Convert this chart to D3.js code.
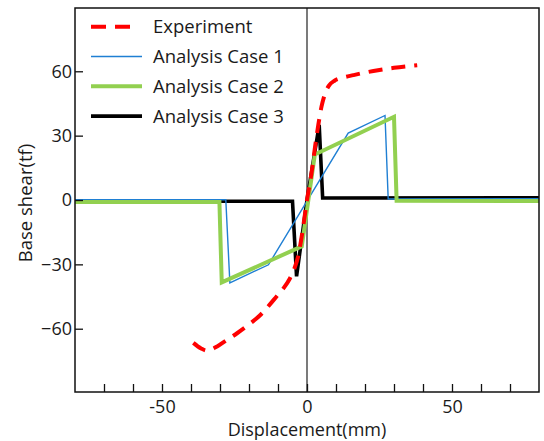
<!DOCTYPE html>
<html>
<head>
<meta charset="utf-8">
<script src="https://cdn.jsdelivr.net/npm/d3@7/dist/d3.min.js"></script>
<style>
  html, body { margin: 0; padding: 0; background: #fff; }
  svg { display: block; }
  text { font-family: "Open Sans", "Noto Sans", sans-serif; fill: #1a1a1a; }
</style>
</head>
<body>
<svg id="chart" width="544" height="441"></svg>
<script>
// Hysteresis response: displacement (mm) vs. base shear (tf)
const experimentX = [-39.2, -36.5, -34.5, -31, -28, -24, -20, -16, -13, -10.5, -8, -6, -4.5, -3, -2, -1, 0,
                     1.5, 2.8, 3.9, 5, 6.2, 7.5, 9.5, 12, 16, 20, 25, 30, 38];
const experimentY = [-66.6, -69.2, -70.2, -68.3, -65.6, -62, -58, -53.5, -49, -45, -41, -36.8, -32.5, -26, -18.5, -9.5, 0,
                     12, 25, 35, 43.5, 49.5, 53.2, 55.6, 56.9, 58.2, 59.4, 60.6, 61.6, 62.8];

const case1X = [-80, -28, -26.6, -13.3, 14.2, 26.9, 28, 80];
const case1Y = [0.1, 0.1, -38.6, -30.2, 31.2, 39.4, 0.5, 0.6];

const case2X = [-80, -30.2, -29.4, -1.8, 2.7, 30, 30.9, 80];
const case2Y = [-0.9, -0.9, -38.4, -21.6, 21.2, 38.8, -0.3, -0.5];

const case3X = [-80, -5, -3.6, 0, 4.2, 5.4, 80];
const case3Y = [-0.6, -0.6, -35.6, 0, 35, 0.9, 1];

const xTicks = [-50, 0, 50];
const xMinorTicks = [-70, -60, -50, -40, -30, -20, -10, 0, 10, 20, 30, 40, 50, 60, 70];
const yTicks = [-60, -30, 0, 30, 60];

const seriesNames = ["Experiment", "Analysis Case 1", "Analysis Case 2", "Analysis Case 3"];

const styles = {
  "Experiment":      { color: "#ff0000", width: 4,   dash: "14,9" },
  "Analysis Case 1": { color: "#1f7fd3", width: 1.4, dash: null },
  "Analysis Case 2": { color: "#92d050", width: 4,   dash: null },
  "Analysis Case 3": { color: "#000000", width: 3.6, dash: null }
};

const series = {
  "Experiment": d3.zip(experimentX, experimentY),
  "Analysis Case 1": d3.zip(case1X, case1Y),
  "Analysis Case 2": d3.zip(case2X, case2Y),
  "Analysis Case 3": d3.zip(case3X, case3Y)
};

const svg = d3.select("#chart");
const L = 75, R = 539, T = 8, B = 392;

const x = d3.scaleLinear().domain([-80, 80]).range([L, R]);
const y = d3.scaleLinear().domain([-89.5, 89.5]).range([B, T]);

svg.append("clipPath").attr("id", "plotClip")
  .append("rect").attr("x", L).attr("y", T).attr("width", R - L).attr("height", B - T);

// vertical reference line at zero displacement
svg.append("line")
  .attr("x1", x(0)).attr("x2", x(0)).attr("y1", T).attr("y2", B)
  .attr("stroke", "#333").attr("stroke-width", 1.3);

const lineGen = d3.line().x(d => x(d[0])).y(d => y(d[1]));
const curveGen = d3.line().x(d => x(d[0])).y(d => y(d[1])).curve(d3.curveMonotoneX);

const plot = svg.append("g").attr("clip-path", "url(#plotClip)");
// later series drawn first so the experiment curve sits on top
["Analysis Case 3", "Analysis Case 1", "Analysis Case 2", "Experiment"].forEach(name => {
  const s = styles[name];
  plot.append("path")
    .datum(series[name])
    .attr("fill", "none")
    .attr("stroke", s.color)
    .attr("stroke-width", s.width)
    .attr("stroke-linejoin", "miter")
    .attr("stroke-dasharray", s.dash)
    .attr("d", name === "Experiment" ? curveGen : lineGen);
});

// frame
svg.append("rect")
  .attr("x", L).attr("y", T).attr("width", R - L).attr("height", B - T)
  .attr("fill", "none").attr("stroke", "#111").attr("stroke-width", 1.5);

// x axis: inward ticks, labels below
const xAxis = d3.axisBottom(x).tickValues(xMinorTicks).tickSize(-8).tickPadding(8)
  .tickFormat(d => xTicks.includes(d) ? d : "");
const gx = svg.append("g").attr("transform", `translate(0,${B})`).call(xAxis);
gx.select(".domain").remove();
gx.selectAll(".tick line").attr("stroke", "#111").attr("stroke-width", 1.3);
gx.selectAll(".tick text").attr("font-size", 18).attr("fill", "#1a1a1a")
  .attr("font-family", "'Open Sans', sans-serif");

// y axis: inward ticks, labels left
const yAxis = d3.axisLeft(y).tickValues(yTicks).tickSize(-8).tickPadding(3);
const gy = svg.append("g").attr("transform", `translate(${L},0)`).call(yAxis);
gy.select(".domain").remove();
gy.selectAll(".tick line").attr("stroke", "#111").attr("stroke-width", 1.3);
gy.selectAll(".tick text").attr("font-size", 18).attr("fill", "#1a1a1a")
  .attr("font-family", "'Open Sans', sans-serif");

// axis titles
svg.append("text")
  .attr("x", x(0)).attr("y", 436)
  .attr("text-anchor", "middle").attr("font-size", 18)
  .text("Displacement(mm)");
svg.append("text")
  .attr("transform", `translate(32,${(T + B) / 2 + 3}) rotate(-90)`)
  .attr("text-anchor", "middle").attr("font-size", 18.5)
  .text("Base shear(tf)");

// legend
const legend = svg.append("g");
seriesNames.forEach((name, i) => {
  const s = styles[name];
  const ly = 26.7 + i * 29.8;
  legend.append("line")
    .attr("x1", 91).attr("x2", name === "Experiment" ? 131 : 142)
    .attr("y1", ly).attr("y2", ly)
    .attr("stroke", s.color).attr("stroke-width", s.width)
    .attr("stroke-dasharray", name === "Experiment" ? "15,9" : null);
  legend.append("text")
    .attr("x", 153).attr("y", ly).attr("dy", "0.35em")
    .attr("font-size", 18.5)
    .text(name);
});
</script>
</body>
</html>
